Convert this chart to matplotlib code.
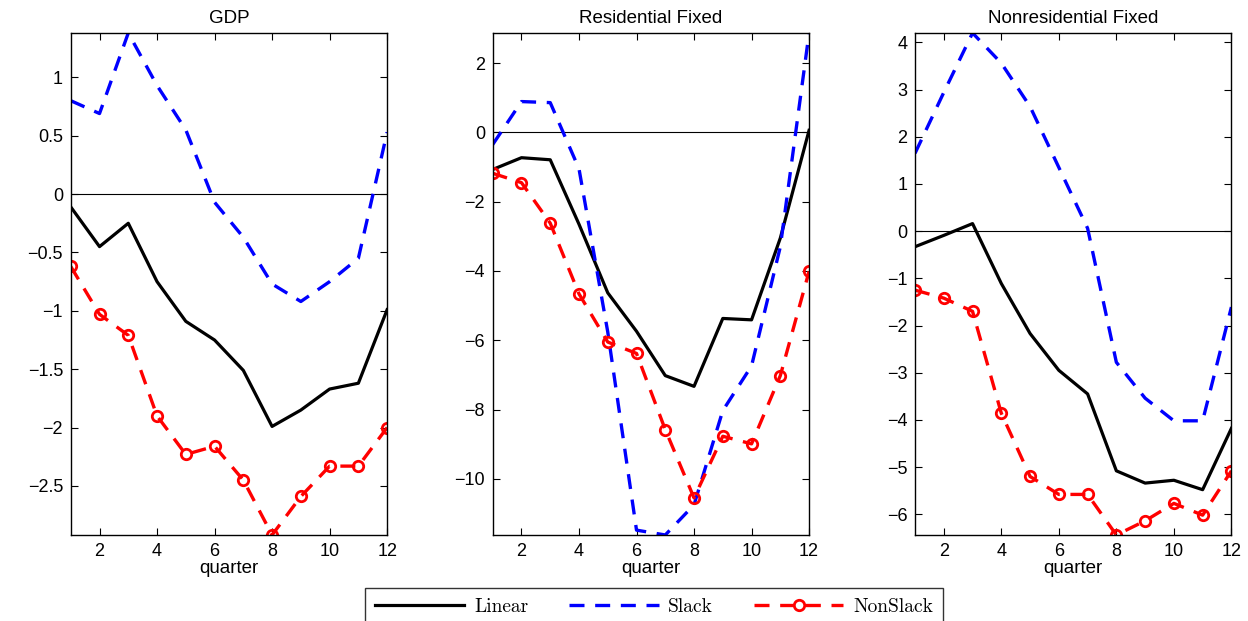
import numpy as np
import matplotlib
matplotlib.use("Agg")
import matplotlib.pyplot as plt

# quarters after the shock
quarters = np.arange(1, 13)

titles = ["GDP", "Residential Fixed", "Nonresidential Fixed"]

gdp_linear = [-0.11, -0.45, -0.25, -0.75, -1.09, -1.25, -1.51, -1.99, -1.85, -1.67, -1.62, -0.99]
gdp_slack = [0.80, 0.69, 1.38, 0.93, 0.55, -0.07, -0.37, -0.77, -0.92, -0.75, -0.55, 0.53]
gdp_nonslack = [-0.62, -1.03, -1.21, -1.90, -2.23, -2.16, -2.45, -2.92, -2.59, -2.33, -2.33, -2.00]

res_linear = [-1.07, -0.73, -0.79, -2.65, -4.63, -5.74, -7.02, -7.33, -5.37, -5.41, -3.05, 0.06]
res_slack = [-0.35, 0.89, 0.86, -1.05, -5.76, -11.48, -11.62, -10.75, -8.03, -6.74, -3.30, 2.87]
res_nonslack = [-1.18, -1.45, -2.62, -4.66, -6.05, -6.38, -8.58, -10.55, -8.77, -8.99, -7.02, -4.01]

nonres_linear = [-0.33, -0.09, 0.16, -1.11, -2.17, -2.95, -3.45, -5.08, -5.34, -5.28, -5.48, -4.18]
nonres_slack = [1.65, 2.94, 4.20, 3.56, 2.64, 1.35, 0.06, -2.78, -3.54, -4.02, -4.02, -1.61]
nonres_nonslack = [-1.25, -1.42, -1.70, -3.86, -5.20, -5.58, -5.58, -6.44, -6.14, -5.77, -6.02, -5.08]

panels = [
    (gdp_linear, gdp_slack, gdp_nonslack, np.arange(-2.5, 1.01, 0.5), ["\u22122.5", "\u22122", "\u22121.5", "\u22121", "\u22120.5", "0", "0.5", "1"]),
    (res_linear, res_slack, res_nonslack, np.arange(-10, 2.1, 2), None),
    (nonres_linear, nonres_slack, nonres_nonslack, np.arange(-6, 4.1, 1), None),
]

plt.rcParams["font.family"] = ["Liberation Sans", "DejaVu Sans"]

fig = plt.figure(figsize=(12.48, 6.21), dpi=100)
lefts = [0.0567, 0.3948, 0.7332]
handles = None
for i, (lin, slk, nsl, yt, ytl) in enumerate(panels):
    ax = fig.add_axes([lefts[i], 0.1385, 0.2535, 0.8084])
    ax.axhline(0, color="black", lw=0.8)
    h1, = ax.plot(quarters, lin, color="black", lw=2.3, label="Linear")
    h2, = ax.plot(quarters, slk, color="blue", lw=2.4, dashes=(4.5, 3.2), label="Slack")
    h3, = ax.plot(quarters, nsl, color="red", lw=2.4, dashes=(4.5, 3.2), marker="o",
                  markersize=7.5, markerfacecolor="none", markeredgewidth=2, label="NonSlack")
    handles = [h1, h2, h3]
    alldata = np.concatenate([lin, slk, nsl])
    ax.set_xlim(1, 12)
    ax.set_ylim(alldata.min(), alldata.max())
    ax.set_xticks(np.arange(2, 13, 2))
    ax.set_yticks(yt)
    if ytl is not None:
        ax.set_yticklabels(ytl)
    ax.tick_params(direction="in", top=True, right=True, length=5, width=0.8,
                   labelsize=13, pad=5.5)
    for s in ax.spines.values():
        s.set_linewidth(1.0)
    ax.set_title(titles[i], fontsize=13.5, pad=7)
    ax.set_xlabel("quarter", fontsize=13.5, labelpad=0)

leg = fig.legend(handles, ["Linear", "Slack", "NonSlack"], loc="upper center",
                 bbox_to_anchor=(0.524, 0.0531), borderaxespad=0, ncol=3, frameon=True,
                 fancybox=False, edgecolor="black", handlelength=4.6, columnspacing=2.1,
                 handletextpad=0.5, borderpad=0.5, prop={"family": "cmr10", "size": 14})
leg.get_frame().set_linewidth(1.0)

fig.savefig("out.png", dpi=100)
